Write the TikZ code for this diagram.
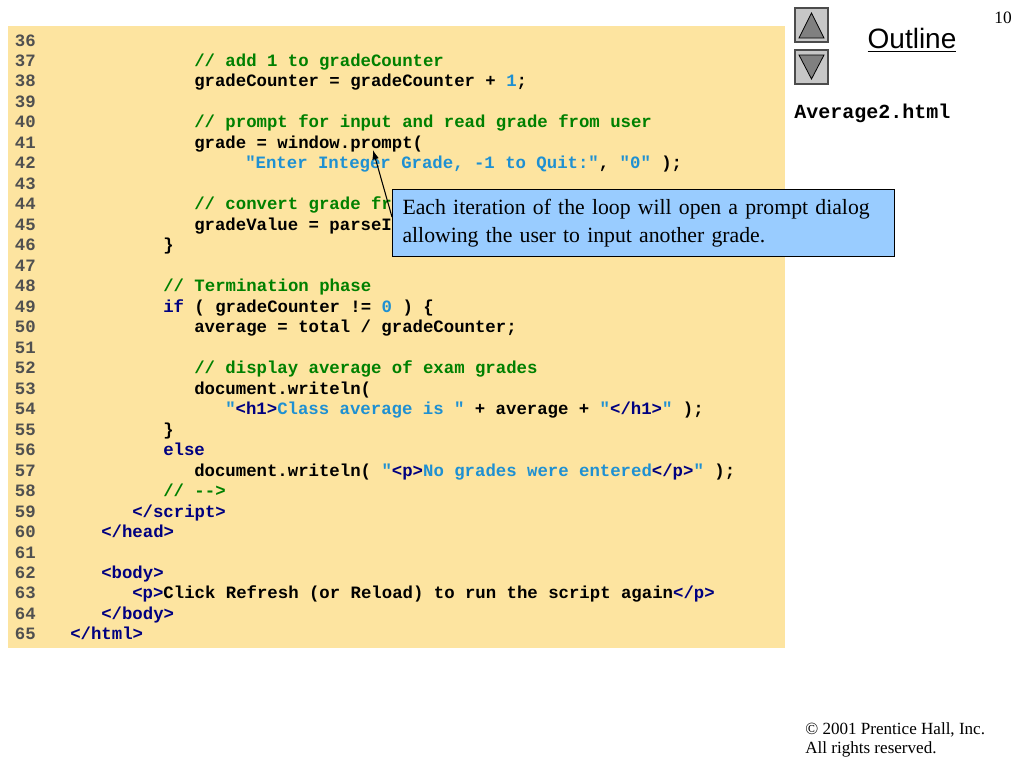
\documentclass[tikz,border=0pt]{standalone}
\usepackage{fontspec}
\usetikzlibrary{arrows.meta}
\setmainfont{Liberation Serif}
\newfontfamily\codefont{Liberation Mono}
\newfontfamily\sansf{Liberation Sans}
\definecolor{panel}{RGB}{253,228,160}
\definecolor{cgreen}{RGB}{0,128,0}
\definecolor{cstr}{RGB}{30,144,210}
\definecolor{ckw}{RGB}{0,0,128}
\definecolor{cnum}{RGB}{80,80,80}
\definecolor{callout}{RGB}{153,204,255}
\newcommand{\cm}[1]{\textcolor{cgreen}{#1}}
\newcommand{\stq}[1]{\textcolor{cstr}{#1}}
\newcommand{\kw}[1]{\textcolor{ckw}{#1}}
\tikzset{
 code/.style={anchor=base west,inner sep=0pt,font=\codefont\bfseries\fontsize{13}{15}\selectfont},
 lnum/.style={anchor=base east,inner sep=0pt,text=cnum,font=\codefont\bfseries\fontsize{13}{15}\selectfont},
 btn/.style={draw=black!70,fill=black!22,line width=0.8pt},
 tri/.style={draw=black,fill=black!50,line width=0.6pt}
}
\begin{document}
\begin{tikzpicture}[x=0.75pt,y=-0.75pt]
\useasboundingbox (0,0) rectangle (1024,768);
\fill[white] (0,0) rectangle (1024,768);
\fill[panel] (8,26) rectangle (785,648);
% line numbers
\foreach \n [count=\i from 0] in {36,...,65}{
  \node[lnum] (ln\n) at (36,{46+\i*20.48}) {\n};
}
\def\Y#1{{46+(#1-36)*20.48}}
\node[code] (c37) at (194,\Y{37}) {\cm{// add 1 to gradeCounter}};
\node[code] (c38) at (194,\Y{38}) {gradeCounter = gradeCounter + \stq{1};};
\node[code] (c40) at (194,\Y{40}) {\cm{// prompt for input and read grade from user}};
\node[code] (c41) at (194,\Y{41}) {grade = window.prompt(};
\node[code] (c42) at (245,\Y{42}) {\stq{"Enter Integer Grade, -1 to Quit:"}, \stq{"0"} );};
\node[code] (c44) at (194,\Y{44}) {\cm{// convert grade from a string to an integer}};
\node[code] (c45) at (194,\Y{45}) {gradeValue = parseInt( grade );};
\node[code] (c46) at (163,\Y{46}) {\}};
\node[code] (c48) at (163,\Y{48}) {\cm{// Termination phase}};
\node[code] (c49) at (163,\Y{49}) {\kw{if} ( gradeCounter != \stq{0} ) \{};
\node[code] (c50) at (194,\Y{50}) {average = total / gradeCounter;};
\node[code] (c52) at (194,\Y{52}) {\cm{// display average of exam grades}};
\node[code] (c53) at (194,\Y{53}) {document.writeln(};
\node[code] (c54) at (225,\Y{54}) {\stq{"}\kw{<h1>}\stq{Class average is "} + average + \stq{"}\kw{</h1>}\stq{"} );};
\node[code] (c55) at (163,\Y{55}) {\}};
\node[code] (c56) at (163,\Y{56}) {\kw{else}};
\node[code] (c57) at (194,\Y{57}) {document.writeln( \stq{"}\kw{<p>}\stq{No grades were entered}\kw{</p>}\stq{"} );};
\node[code] (c58) at (163,\Y{58}) {\cm{// -->}};
\node[code] (c59) at (132,\Y{59}) {\kw{</script>}};
\node[code] (c60) at (101,\Y{60}) {\kw{</head>}};
\node[code] (c62) at (101,\Y{62}) {\kw{<body>}};
\node[code] (c63) at (132,\Y{63}) {\kw{<p>}Click Refresh (or Reload) to run the script again\kw{</p>}};
\node[code] (c64) at (101,\Y{64}) {\kw{</body>}};
\node[code] (c65) at (70,\Y{65}) {\kw{</html>}};
% callout
\node[draw=black,fill=callout,line width=0.8pt,minimum width=502*0.75pt,minimum height=67*0.75pt,
  anchor=north west,inner xsep=7.5pt,inner ysep=0pt,text width=482*0.75pt,align=left,font=\fontsize{16.3}{21}\selectfont]
  (note) at (392,189) {Each iteration of the loop will open a prompt dialog\\allowing the user to input another grade.};
\coordinate (tip) at (373,150);
\coordinate (tail) at (392,217);
\draw[-{Latex[length=7pt,width=5pt]},line width=0.8pt] (tail) -- (tip);
% buttons
\draw[btn] (795,8) rectangle (828,42);
\draw[tri] (811.5,13) -- (824,38) -- (799,38) -- cycle;
\draw[btn] (795,50) rectangle (828,84);
\draw[tri] (811.5,79) -- (824,55) -- (799,55) -- cycle;
\node[font=\sansf\fontsize{21}{24}\selectfont,inner sep=0pt] (outline) at (912,40) {\underline{Outline}};
\node[font=\fontsize{13}{15}\selectfont,inner sep=0pt] (pg) at (1003,18) {10};
\node[anchor=base west,inner sep=0pt,font=\codefont\bfseries\fontsize{15}{17}\selectfont] (fname) at (794,118) {Average2.html};
\node[anchor=base west,inner sep=0pt,font=\fontsize{12.8}{14}\selectfont] (copy) at (805,734) {\textcopyright{} 2001 Prentice Hall, Inc.};
\node[anchor=base west,inner sep=0pt,font=\fontsize{12.8}{14}\selectfont] (rights) at (805,753) {All rights reserved.};
\end{tikzpicture}
\end{document}
